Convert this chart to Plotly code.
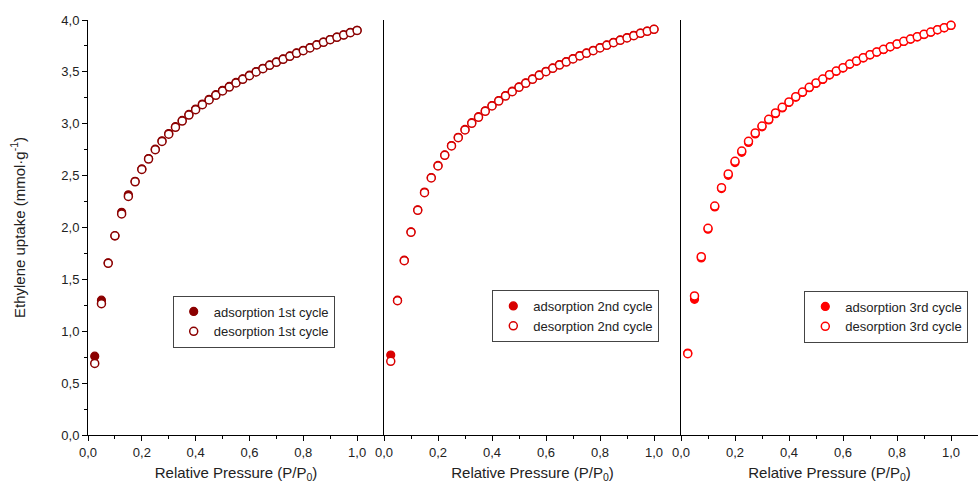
import plotly.graph_objects as go

# Relative pressure points (same for every cycle)
pressure = [round(0.025 * i, 3) for i in range(1, 41)]

# Cycle 1
ads_1 = [0.76, 1.30, 1.66, 1.92, 2.146, 2.315, 2.445, 2.565, 2.665, 2.755, 2.835, 2.905, 2.972, 3.032,
         3.09, 3.142, 3.19, 3.235, 3.28, 3.322, 3.36, 3.398, 3.433, 3.468, 3.503, 3.535, 3.567, 3.596,
         3.625, 3.654, 3.683, 3.708, 3.734, 3.762, 3.788, 3.812, 3.835, 3.857, 3.88, 3.90]
des_1 = [0.69, 1.266, 1.655, 1.92, 2.13, 2.30, 2.44, 2.56, 2.66, 2.75, 2.83, 2.90, 2.966, 3.026,
         3.084, 3.136, 3.184, 3.229, 3.274, 3.316, 3.354, 3.393, 3.428, 3.463, 3.499, 3.531, 3.563, 3.592,
         3.621, 3.65, 3.679, 3.704, 3.73, 3.759, 3.785, 3.81, 3.833, 3.855, 3.878, 3.90]

# Cycle 2
ads_2 = [0.771, 1.30, 1.685, 1.958, 2.17, 2.342, 2.482, 2.598, 2.70, 2.79, 2.87, 2.945, 3.01, 3.068,
         3.125, 3.176, 3.224, 3.272, 3.314, 3.356, 3.395, 3.433, 3.471, 3.506, 3.538, 3.57, 3.599, 3.628,
         3.657, 3.683, 3.708, 3.734, 3.76, 3.785, 3.808, 3.83, 3.852, 3.874, 3.893, 3.91]
des_2 = [0.71, 1.295, 1.68, 1.954, 2.166, 2.336, 2.477, 2.593, 2.696, 2.786, 2.866, 2.94, 3.004, 3.062,
         3.12, 3.171, 3.219, 3.267, 3.309, 3.351, 3.39, 3.428, 3.467, 3.502, 3.534, 3.566, 3.595, 3.624,
         3.653, 3.679, 3.704, 3.73, 3.756, 3.781, 3.804, 3.827, 3.849, 3.872, 3.891, 3.91]

# Cycle 3
ads_3 = [0.79, 1.308, 1.706, 1.983, 2.198, 2.375, 2.503, 2.626, 2.725, 2.82, 2.902, 2.97, 3.036, 3.097,
         3.152, 3.205, 3.256, 3.301, 3.347, 3.389, 3.427, 3.469, 3.505, 3.537, 3.573, 3.602, 3.634, 3.663,
         3.69, 3.715, 3.741, 3.767, 3.793, 3.815, 3.837, 3.86, 3.882, 3.905, 3.925, 3.948]
des_3 = [0.784, 1.34, 1.719, 1.992, 2.207, 2.384, 2.516, 2.638, 2.737, 2.831, 2.911, 2.978, 3.043, 3.104,
         3.158, 3.21, 3.261, 3.306, 3.351, 3.393, 3.431, 3.473, 3.508, 3.54, 3.576, 3.605, 3.637, 3.666,
         3.692, 3.717, 3.743, 3.769, 3.795, 3.817, 3.839, 3.862, 3.884, 3.907, 3.926, 3.949]

colors = ["#8B0000", "#D80000", "#FF0000"]
cycle_names = ["1st", "2nd", "3rd"]
ads_sets = [ads_1, ads_2, ads_3]
des_sets = [des_1, des_2, des_3]

x_tick_vals = [0.0, 0.2, 0.4, 0.6, 0.8, 1.0]
y_tick_vals = [0.0, 0.5, 1.0, 1.5, 2.0, 2.5, 3.0, 3.5, 4.0]

W, H = 978, 486
ML, MR, MT, MB = 88, 0, 20, 51
pw = W - ML - MR
ph = H - MT - MB
edges_px = [88, 384, 681, 978]
domains = [[(edges_px[i] - ML) / pw, (edges_px[i + 1] - ML) / pw] for i in range(3)]

fig = go.Figure()
legend_keys = ["legend", "legend2", "legend3"]
for i in range(3):
    xa = "x" if i == 0 else f"x{i+1}"
    ya = "y" if i == 0 else f"y{i+1}"
    fig.add_trace(go.Scatter(
        x=pressure, y=ads_sets[i], mode="markers", xaxis=xa, yaxis=ya,
        name=f"adsorption {cycle_names[i]} cycle", legend=legend_keys[i],
        marker=dict(symbol="circle", size=8, color=colors[i],
                    line=dict(color=colors[i], width=1.2)),
    ))
    fig.add_trace(go.Scatter(
        x=pressure, y=des_sets[i], mode="markers", xaxis=xa, yaxis=ya,
        name=f"desorption {cycle_names[i]} cycle", legend=legend_keys[i],
        marker=dict(symbol="circle", size=8, color="white",
                    line=dict(color=colors[i], width=1.5)),
    ))

font_family = "Arial, Liberation Sans, sans-serif"
axis_title_font = dict(family=font_family, size=15, color="#222")
tick_font = dict(family=font_family, size=13, color="#222")

layout = dict(
    width=W, height=H,
    margin=dict(l=ML, r=MR, t=MT, b=MB),
    paper_bgcolor="white", plot_bgcolor="white",
    separators=", ",
    font=dict(family=font_family, size=13, color="#222"),
    showlegend=True,
)

for i in range(3):
    key = "xaxis" if i == 0 else f"xaxis{i+1}"
    ykey = "yaxis" if i == 0 else f"yaxis{i+1}"
    yref = "y" if i == 0 else f"y{i+1}"
    xref = "x" if i == 0 else f"x{i+1}"
    layout[key] = dict(
        domain=domains[i], anchor=yref, range=[0, 1.1],
        tickvals=x_tick_vals, tickformat=".1f",
        ticks="outside", ticklen=5, tickwidth=1, tickcolor="black",
        minor=dict(dtick=0.1, tick0=0, ticks="outside", ticklen=3, tickcolor="black"),
        showline=True, linecolor="black", linewidth=1,
        showgrid=False, zeroline=False, tickfont=tick_font,
        title=dict(text="Relative Pressure (P/P<sub>0</sub>)", font=axis_title_font, standoff=8),
        automargin=False,
    )
    if i == 0:
        layout[ykey] = dict(
            domain=[0, 1], anchor=xref, range=[0, 4.0],
            tickvals=y_tick_vals, tickformat=".1f",
            ticks="outside", ticklen=5, tickwidth=1, tickcolor="black",
            minor=dict(dtick=0.25, tick0=0, ticks="outside", ticklen=3, tickcolor="black"),
            showline=True, linecolor="black", linewidth=1,
            showgrid=False, zeroline=False, tickfont=tick_font,
            title=dict(text="Ethylene uptake (mmol·g<sup>-1</sup>)", font=axis_title_font, standoff=32),
            automargin=False,
        )
    else:
        layout[ykey] = dict(
            domain=[0, 1], anchor=xref, range=[0, 4.0],
            showticklabels=False, ticks="",
            showline=True, linecolor="black", linewidth=1,
            showgrid=False, zeroline=False,
        )

legend_pos = [(172.7, 295.5), (492.3, 290.0), (804.3, 290.5)]
for i, (lx, ly) in enumerate(legend_pos):
    layout[legend_keys[i]] = dict(
        x=(lx - ML) / pw, y=(H - MB - ly) / ph, xanchor="left", yanchor="top",
        xref="paper", yref="paper",
        bgcolor="white", bordercolor="#444", borderwidth=1,
        font=dict(family=font_family, size=13, color="#222"),
        tracegroupgap=0, itemsizing="trace", itemwidth=30,
    )

fig.update_layout(**layout)
fig.write_html("out.html")
